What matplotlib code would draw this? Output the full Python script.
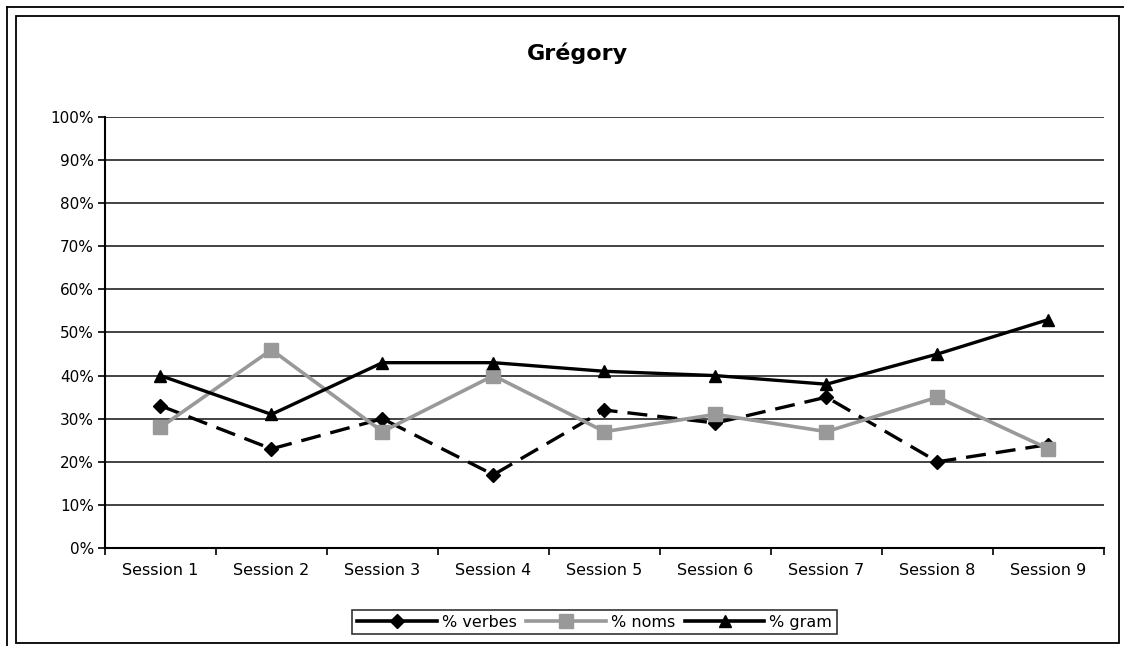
import numpy as np
import matplotlib as mpl
mpl.use('Agg')
from matplotlib import pyplot as plt
from matplotlib.lines import Line2D

sessions = ['Session 1', 'Session 2', 'Session 3', 'Session 4', 'Session 5',
            'Session 6', 'Session 7', 'Session 8', 'Session 9']
verbes = [33, 23, 30, 17, 32, 29, 35, 20, 24]
noms = [28, 46, 27, 40, 27, 31, 27, 35, 23]
gram = [40, 31, 43, 43, 41, 40, 38, 45, 53]

plt.rcParams['font.family'] = ['DejaVu Sans']

fig = plt.figure(figsize=(11.24, 6.46), dpi=100)
ax = fig.add_axes([0.0934, 0.1517, 0.8888, 0.6672])

x = np.arange(len(sessions))
grey = '#999999'
ax.plot(x, verbes, color='black', lw=2.4, dashes=(6, 3),
        marker='D', markersize=7, zorder=3)
ax.plot(x, noms, color=grey, lw=2.6, marker='s', markersize=10, zorder=4)
ax.plot(x, gram, color='black', lw=2.4, marker='^', markersize=9, zorder=5)

ax.set_xlim(-0.5, len(sessions) - 0.5)
ax.set_ylim(0, 100)
ax.set_yticks(np.arange(0, 101, 10))
ax.set_yticklabels(['%d%%' % v for v in range(0, 101, 10)], fontsize=11)
ax.set_xticks(x)
ax.set_xticklabels(sessions, fontsize=11.5)
ax.set_xticks(np.arange(-0.5, len(sessions)), minor=True)
ax.tick_params(axis='x', which='major', length=0, pad=11)
ax.tick_params(axis='x', which='minor', length=5, width=1.2, direction='out')
ax.tick_params(axis='y', length=5, width=1.2, direction='out', pad=3)
for v in range(10, 101, 10):
    ax.axhline(v, color='#222222', lw=1.2, zorder=1)
ax.spines['top'].set_visible(False)
ax.spines['right'].set_visible(False)
ax.spines['left'].set_linewidth(1.5)
ax.spines['bottom'].set_linewidth(1.5)

fig.text(0.514, 0.918, 'Grégory', ha='center', va='center',
         fontsize=16, fontweight='bold')

handles = [
    Line2D([], [], color='black', lw=2.6, marker='D', markersize=7),
    Line2D([], [], color=grey, lw=2.6, marker='s', markersize=10),
    Line2D([], [], color='black', lw=2.6, marker='^', markersize=9),
]
leg = fig.legend(handles, ['% verbes', '% noms', '% gram'], loc='center',
                 bbox_to_anchor=(0.529, 0.037), ncol=3, fontsize=11.5,
                 frameon=True, fancybox=False, handlelength=5.0,
                 handletextpad=0.3, columnspacing=0.6, borderpad=0.3,
                 borderaxespad=0)
leg.get_frame().set_edgecolor('black')
leg.get_frame().set_linewidth(1.2)

# frames round the chart
fig.add_artist(plt.Rectangle((0.01423, 0.00464), 0.9813, 0.9706,
                             transform=fig.transFigure, fill=False,
                             edgecolor='black', lw=1.3))
fig.add_artist(Line2D([0.00623, 0.00623], [0.0, 0.9892],
                      transform=fig.transFigure, color='black', lw=1.3))
fig.add_artist(Line2D([0.00623, 1.0], [0.9892, 0.9892],
                      transform=fig.transFigure, color='black', lw=1.3))

fig.savefig('out.png', dpi=100)
